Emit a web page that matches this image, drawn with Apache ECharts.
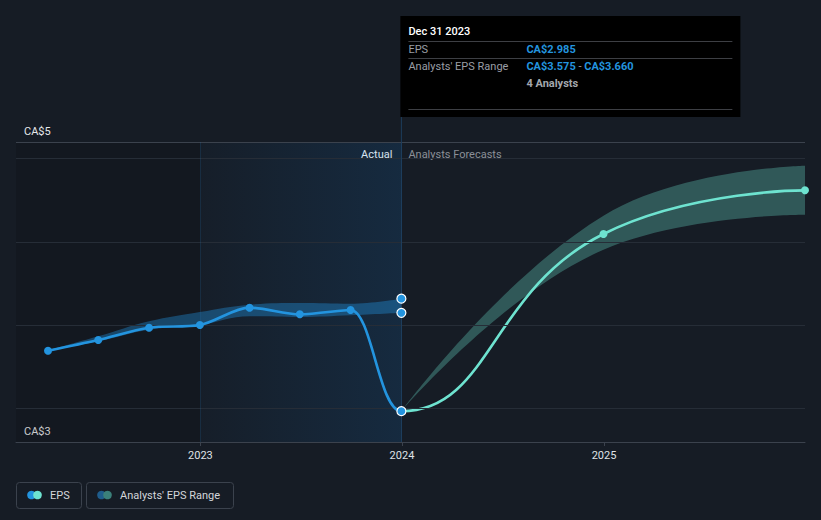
<!DOCTYPE html>
<html><head><meta charset="utf-8">
<script src="https://cdn.jsdelivr.net/npm/echarts@6/dist/echarts.min.js"></script>
<style>html,body{margin:0;padding:0;background:#161c25;}#c{width:821px;height:520px;}</style>
</head><body><div id="c"></div>
<script>
// ---- data ----
const histDates = ['2022-03-31','2022-06-30','2022-09-30','2022-12-31','2023-03-31','2023-06-30','2023-09-30','2023-12-31'];
const histEPS = [3.348, 3.412, 3.486, 3.502, 3.606, 3.566, 3.592, 2.985];
const histRangeLow = [3.348, 3.404, 3.474, 3.502, 3.554, 3.550, 3.560, 3.575];
const histRangeHigh = [3.350, 3.434, 3.524, 3.580, 3.624, 3.634, 3.630, 3.660];
const fcDates = ['2023-12-31','2024-12-31','2025-12-31'];
const fcEPS = [2.985, 4.048, 4.310];
const fcLow = [2.985, 3.954, 4.164];
const fcHigh = [2.985, 4.158, 4.458];
const xTickDates = ['2023-01-01','2024-01-01','2025-01-01'];
const yTickValues = [2.8, 4.6];
const yTickLabels = ['CA$3', 'CA$5'];
const gridValues = [3.0, 3.5, 4.0, 4.5];
const xMin = '2022-02-01', xMax = '2025-12-31';
const yMin = 2.8, yMax = 4.6;
const analystsCount = 4;

const BLUE = '#2394df', TEAL = '#6ee3d0', CLEAR = 'rgba(0,0,0,0)';
const FONT = 'Roboto, "Noto Sans", sans-serif';
const chart = echarts.init(document.getElementById('c'), null, {renderer: 'svg'});
const P = d => echarts.number.parseDate(d).getTime();
const nH = histDates.length;
const splitDate = histDates[nH - 1];
const YEAR = 365 * 24 * 3600 * 1000;

// history line: all actual points plus the next forecast point (its segment is hidden) so the join is smooth
const histLineData = histDates.map((d, i) => {
  const item = {value: [d, histEPS[i]]};
  if (i === nH - 1) { item.itemStyle = {color: BLUE, borderColor: '#ffffff', borderWidth: 1.2}; item.symbolSize = 9; }
  return item;
}).concat([{value: [fcDates[1], fcEPS[1]], symbol: 'none'}]);
// forecast line: starts one actual point earlier (hidden segment) so the curve leaves the last actual flat
const fcLineData = [{value: [histDates[nH - 2], histEPS[nH - 2]], symbol: 'none'}]
  .concat(fcDates.map((d, i) => (i === 0 ? {value: [d, fcEPS[i]], symbol: 'none'} : {value: [d, fcEPS[i]]})));

const bandBase = {type: 'line', symbol: 'none', silent: true, lineStyle: {opacity: 0}, z: 2};
const isYearTick = v => { const d = new Date(v); return d.getMonth() === 0 && d.getDate() === 1; };

chart.setOption({
  animation: false,
  backgroundColor: '#161c25',
  textStyle: {fontFamily: FONT},
  grid: {left: 16, right: 16, top: 142, bottom: 78, containLabel: false},
  xAxis: {
    type: 'time', min: xMin, max: xMax, minInterval: YEAR, maxInterval: YEAR + 24 * 3600 * 1000,
    axisLine: {lineStyle: {color: '#3b424d', width: 1}},
    axisTick: {show: true, length: 4, lineStyle: {color: '#3b424d'}},
    axisLabel: {color: '#dfe2e6', fontSize: 11, margin: 8, fontFamily: FONT,
      showMinLabel: false, showMaxLabel: false,
      formatter: v => isYearTick(v) ? String(new Date(v).getFullYear()) : ''},
    splitLine: {show: false}
  },
  yAxis: {
    type: 'value', min: yMin, max: yMax,
    axisLine: {show: false}, axisTick: {show: false}, splitLine: {show: false},
    axisLabel: {inside: true, margin: 8, color: '#e6e8eb', fontSize: 11, fontFamily: FONT,
      verticalAlign: 'bottom', padding: [0, 0, 5, 0],
      showMinLabel: true, showMaxLabel: true,
      formatter: v => { const i = yTickValues.findIndex(t => Math.abs(t - v) < 1e-6); return i >= 0 ? yTickLabels[i] : ''; }}
  },
  series: [
    {
      name: 'EPS', type: 'line', smooth: 0.3, z: 5,
      symbol: 'circle', symbolSize: 8, showAllSymbol: true,
      itemStyle: {color: BLUE},
      lineStyle: {width: 2.6, color: BLUE},
      data: histLineData
    },
    {
      name: 'EPS forecast', type: 'line', smooth: 0.5, z: 4,
      symbol: 'circle', symbolSize: 8, showAllSymbol: true,
      itemStyle: {color: TEAL},
      lineStyle: {width: 2.6, color: TEAL},
      data: fcLineData
    },
    Object.assign({}, bandBase, {
      name: 'histLow', stack: 'h', smooth: 0.4,
      data: histDates.map((d, i) => [d, histRangeLow[i]]),
      markArea: {
        silent: true,
        data: [
          [{xAxis: xMin, itemStyle: {color: 'rgba(0,0,0,0.13)'}}, {xAxis: xTickDates[0]}],
          [{xAxis: xTickDates[0], itemStyle: {color: {type: 'linear', x: 0, y: 0, x2: 1, y2: 0,
            colorStops: [{offset: 0, color: 'rgba(20,100,170,0.03)'}, {offset: 1, color: 'rgba(20,100,170,0.20)'}]}}},
           {xAxis: splitDate}]
        ]
      },
      markLine: {
        silent: true, symbol: ['none', 'none'], label: {show: false},
        lineStyle: {color: '#262d37', width: 1, type: 'solid'},
        data: gridValues.map(v => ({yAxis: v}))
          .concat([{yAxis: yMax, lineStyle: {color: '#3b424d', width: 1, type: 'solid'}}])
          .concat([{xAxis: xTickDates[0], lineStyle: {color: 'rgba(40,110,170,0.22)', width: 1, type: 'solid'}}])
          .concat([{xAxis: splitDate, lineStyle: {color: '#1d3d5c', width: 1, type: 'solid'}}])
      }
    }),
    Object.assign({}, bandBase, {
      name: 'histHigh', stack: 'h', smooth: 0.4,
      areaStyle: {color: 'rgba(35,148,223,0.38)', opacity: 1},
      data: histDates.map((d, i) => [d, +(histRangeHigh[i] - histRangeLow[i]).toFixed(4)])
    }),
    Object.assign({}, bandBase, {
      name: 'fcLow', stack: 'f', smooth: 0.45,
      data: fcDates.map((d, i) => [d, fcLow[i]])
    }),
    Object.assign({}, bandBase, {
      name: 'fcHigh', stack: 'f', smooth: 0.45,
      areaStyle: {color: 'rgba(110,227,208,0.3)', opacity: 1},
      data: fcDates.map((d, i) => [d, +(fcHigh[i] - fcLow[i]).toFixed(4)])
    }),
    {
      name: 'rangeNow', type: 'scatter', z: 6, symbolSize: 9, silent: true,
      itemStyle: {color: BLUE, borderColor: '#ffffff', borderWidth: 1.2, opacity: 1},
      data: [[splitDate, histRangeLow[nH - 1]], [splitDate, histRangeHigh[nH - 1]]]
    }
  ]
});

// ---- overlays placed from axis coordinates ----
const W = chart.getWidth();
const sx = chart.convertToPixel({xAxisIndex: 0}, P(splitDate));
const gridTop = chart.convertToPixel({yAxisIndex: 0}, yMax);
const so = sx / W;
const grad = (a, b) => ({type: 'linear', global: true, x: 0, y: 0, x2: W, y2: 0,
  colorStops: [{offset: 0, color: a}, {offset: so, color: a}, {offset: so, color: b}, {offset: 1, color: b}]});
const dt = echarts.number.parseDate(splitDate);
const MONTHS = ['Jan','Feb','Mar','Apr','May','Jun','Jul','Aug','Sep','Oct','Nov','Dec'];
const dateLabel = MONTHS[dt.getMonth()] + ' ' + dt.getDate() + ' ' + dt.getFullYear();
const fmt = v => 'CA$' + v.toFixed(3);
const tipX = sx - 1, tipY = 16, tipW = 340, tipH = 101;
const tl = sx + 7, tv = sx + 125, tr = sx + 331;
const sepStyle = {stroke: '#3d3f44', lineWidth: 1};
chart.setOption({
  series: [
    {name: 'EPS', lineStyle: {color: grad(BLUE, CLEAR)}},
    {name: 'EPS forecast', lineStyle: {color: grad(CLEAR, TEAL)}}
  ],
  graphic: [
    {type: 'line', silent: true, shape: {x1: sx, y1: tipY + tipH, x2: sx, y2: gridTop}, style: {stroke: '#1d3d5c', lineWidth: 1}},
    {type: 'rect', silent: true, shape: {x: tipX, y: tipY, width: tipW, height: tipH}, style: {fill: '#000000'}},
    {type: 'text', silent: true, x: tl, y: 31, style: {text: dateLabel, fill: '#ffffff', font: '500 11px ' + FONT, verticalAlign: 'middle'}},
    {type: 'line', silent: true, shape: {x1: tl, y1: 41.5, x2: tr, y2: 41.5}, style: sepStyle},
    {type: 'text', silent: true, x: tl, y: 49.5, style: {text: 'EPS', fill: '#9a9ea5', font: '11px ' + FONT, verticalAlign: 'middle'}},
    {type: 'text', silent: true, x: tv, y: 49.5, style: {text: fmt(histEPS[nH - 1]), fill: BLUE, font: 'bold 11px ' + FONT, verticalAlign: 'middle'}},
    {type: 'line', silent: true, shape: {x1: tl, y1: 58.5, x2: tr, y2: 58.5}, style: sepStyle},
    {type: 'text', silent: true, x: tl, y: 66, style: {text: "Analysts' EPS Range", fill: '#9a9ea5', font: '11px ' + FONT, verticalAlign: 'middle'}},
    {type: 'text', silent: true, x: tv, y: 66, style: {
      text: '{v|' + fmt(histRangeLow[nH - 1]) + '}{g| - }{v|' + fmt(histRangeHigh[nH - 1]) + '}',
      verticalAlign: 'middle',
      rich: {v: {fill: BLUE, fontWeight: 'bold', fontSize: 11, fontFamily: FONT}, g: {fill: '#9a9ea5', fontSize: 11, fontFamily: FONT}}}},
    {type: 'text', silent: true, x: tv, y: 83, style: {text: analystsCount + ' Analysts', fill: '#a3a7ad', font: 'bold 11px ' + FONT, verticalAlign: 'middle'}},
    {type: 'line', silent: true, shape: {x1: tl, y1: 109.5, x2: tr, y2: 109.5}, style: sepStyle},
    {type: 'text', silent: true, x: sx - 9, y: 154, style: {text: 'Actual', fill: '#ffffff', font: '11px ' + FONT, align: 'right', verticalAlign: 'middle'}},
    {type: 'text', silent: true, x: sx + 7, y: 154, style: {text: 'Analysts Forecasts', fill: '#8b9098', font: '11px ' + FONT, align: 'left', verticalAlign: 'middle'}},
    {type: 'rect', silent: true, shape: {x: 16.5, y: 482.5, width: 65, height: 26, r: 3}, style: {fill: 'none', stroke: '#3b424d', lineWidth: 1}},
    {type: 'circle', silent: true, shape: {cx: 31.5, cy: 495, r: 4.3}, style: {fill: BLUE}},
    {type: 'circle', silent: true, shape: {cx: 37.5, cy: 495, r: 4.3}, style: {fill: TEAL}},
    {type: 'text', silent: true, x: 50, y: 495, style: {text: 'EPS', fill: '#d3d6db', font: '11px ' + FONT, verticalAlign: 'middle'}},
    {type: 'rect', silent: true, shape: {x: 86.5, y: 482.5, width: 147, height: 26, r: 3}, style: {fill: 'none', stroke: '#3b424d', lineWidth: 1}},
    {type: 'circle', silent: true, shape: {cx: 101.5, cy: 495, r: 4.3}, style: {fill: '#1f5d8c'}},
    {type: 'circle', silent: true, shape: {cx: 107.5, cy: 495, r: 4.3}, style: {fill: '#3b807a'}},
    {type: 'text', silent: true, x: 120, y: 495, style: {text: "Analysts' EPS Range", fill: '#d3d6db', font: '11px ' + FONT, verticalAlign: 'middle'}}
  ]
});
</script>
</body></html>
